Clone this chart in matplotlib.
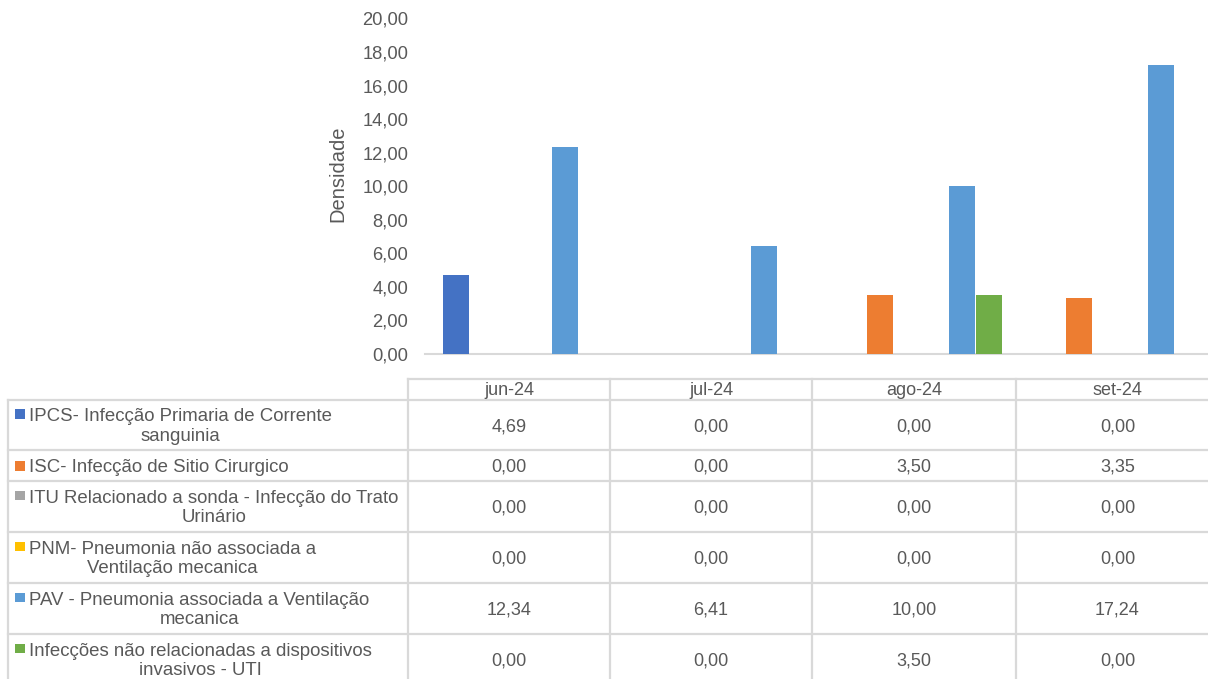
import matplotlib
matplotlib.use("Agg")
import matplotlib.pyplot as plt
from matplotlib.patches import Rectangle

plt.rcParams['font.family'] = ['Liberation Sans', 'DejaVu Sans']

months = ["jun-24", "jul-24", "ago-24", "set-24"]
series_names = [
    "IPCS- Infecção Primaria de Corrente\nsanguinia",
    "ISC- Infecção de Sitio Cirurgico",
    "ITU Relacionado a sonda - Infecção do Trato\nUrinário",
    "PNM- Pneumonia não associada a\nVentilação mecanica",
    "PAV - Pneumonia associada a Ventilação\nmecanica",
    "Infecções não relacionadas a dispositivos\ninvasivos - UTI",
]
ipcs = [4.69, 0.00, 0.00, 0.00]
isc = [0.00, 0.00, 3.50, 3.35]
itu = [0.00, 0.00, 0.00, 0.00]
pnm = [0.00, 0.00, 0.00, 0.00]
pav = [12.34, 6.41, 10.00, 17.24]
outras = [0.00, 0.00, 3.50, 0.00]
values = [ipcs, isc, itu, pnm, pav, outras]
colors = ["#4472C4", "#ED7D31", "#A5A5A5", "#FFC000", "#5B9BD5", "#70AD47"]
yticks = [0, 2, 4, 6, 8, 10, 12, 14, 16, 18, 20]

W, H = 1208, 679
fig = plt.figure(figsize=(W / 100, H / 100), dpi=100)
txt = "#595959"
grid = "#D9D9D9"

# plot area in pixels
px_l, px_r, px_b, px_t = 425, 1219, 354, 18.5
ax = fig.add_axes([px_l / W, (H - px_b) / H, (px_r - px_l) / W, (px_b - px_t) / H])
step = 0.137
bw = 0.131
for i, (vals, c) in enumerate(zip(values, colors)):
    xs = [k + (i - 2.5) * step for k in range(len(months))]
    ax.bar(xs, vals, width=bw, color=c, edgecolor="none", zorder=3)
ax.set_xlim(-0.5, 3.5)
ax.set_ylim(0, 20)
ax.set_yticks(yticks)
ax.set_yticklabels([f"{v:.2f}".replace(".", ",") for v in yticks], fontsize=13.2, color=txt)
ax.tick_params(axis="y", length=0, pad=12)
ax.set_xticks([])
for s in ["top", "right", "left"]:
    ax.spines[s].set_visible(False)
ax.spines["bottom"].set_color(grid)
ax.spines["bottom"].set_linewidth(1.5)
ax.set_ylabel("Densidade", fontsize=14.5, color=txt)
ax.yaxis.set_label_coords((347 - px_l) / (px_r - px_l), (px_b - 174) / (px_b - px_t))
ax.patch.set_alpha(0)

# data table drawn in pixel coordinates
tx = fig.add_axes([0, 0, 1, 1], zorder=-1)
tx.set_xlim(0, W)
tx.set_ylim(H, 0)
tx.axis("off")
col_edges = [408, 610, 812, 1016, 1219]
row_edges = [400, 450, 481, 532, 583, 634, 685]
head_top = 379
left = 8
lw = 1.6
# header
tx.plot([col_edges[0], col_edges[-1]], [head_top, head_top], color=grid, lw=lw)
for xe in col_edges:
    tx.plot([xe, xe], [head_top, row_edges[-1]], color=grid, lw=lw)
tx.plot([left, left], [row_edges[0], row_edges[-1]], color=grid, lw=lw)
for ye in row_edges:
    tx.plot([left, col_edges[-1]], [ye, ye], color=grid, lw=lw)
for j, m in enumerate(months):
    cx = (col_edges[j] + col_edges[j + 1]) / 2
    tx.text(cx, (head_top + row_edges[0]) / 2 + 1, m, ha="center", va="center", fontsize=13, color=txt)
for i, name in enumerate(series_names):
    y0, y1 = row_edges[i], row_edges[i + 1]
    cy = (y0 + y1) / 2
    tx.text(29, cy + 1.5, name, ha="left", va="center", multialignment="center",
            fontsize=13.4, color=txt, linespacing=1.22)
    nlines = name.count("\n") + 1
    my = cy - (11.5 if nlines == 2 else 0)
    tx.add_patch(Rectangle((15, my - 4.5), 9.5, 9.5, color=colors[i], lw=0))
    for j in range(len(months)):
        cx = (col_edges[j] + col_edges[j + 1]) / 2
        tx.text(cx, cy + 1.5, f"{values[i][j]:.2f}".replace(".", ","), ha="center", va="center",
                fontsize=13, color=txt)

fig.savefig("out.png", dpi=100)
